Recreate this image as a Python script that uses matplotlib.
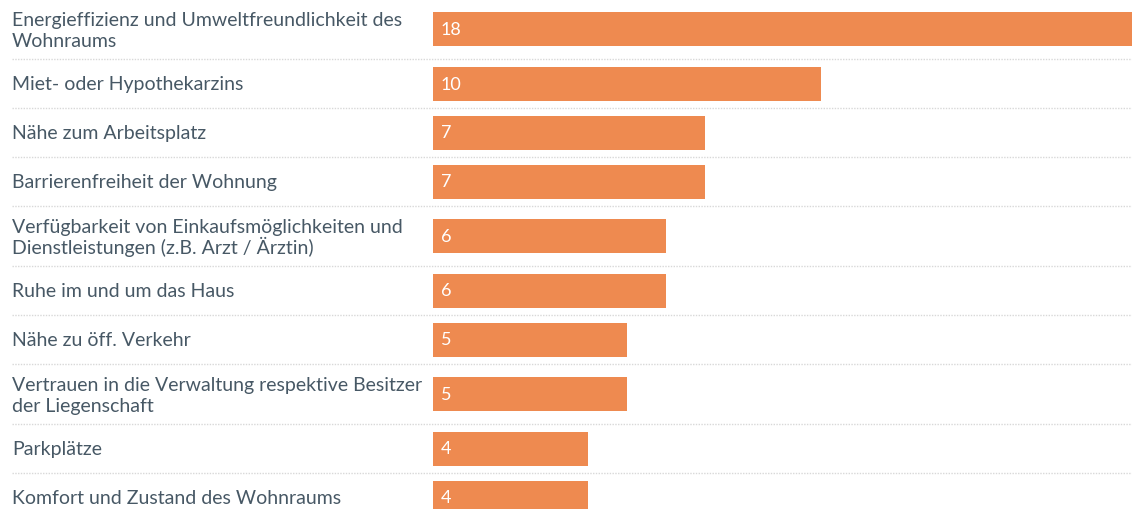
import matplotlib.pyplot as plt
import matplotlib.transforms as mtransforms

# data
labels = [
    "Energieffizienz und Umweltfreundlichkeit des\nWohnraums",
    "Miet- oder Hypothekarzins",
    "Nähe zum Arbeitsplatz",
    "Barrierenfreiheit der Wohnung",
    "Verfügbarkeit von Einkaufsmöglichkeiten und\nDienstleistungen (z.B. Arzt / Ärztin)",
    "Ruhe im und um das Haus",
    "Nähe zu öff. Verkehr",
    "Vertrauen in die Verwaltung respektive Besitzer\nder Liegenschaft",
    "Parkplätze",
    "Komfort und Zustand des Wohnraums",
]
values = [18, 10, 7, 7, 6, 6, 5, 5, 4, 4]

BAR_COLOR = "#EE8A50"
TEXT_COLOR = "#475865"
W, H = 1132, 510
LEFT = 433

plt.rcParams['font.family'] = ['Lato', 'DejaVu Sans']

fig = plt.figure(figsize=(W / 100, H / 100), dpi=100)
ax = fig.add_axes([LEFT / W, 0, 1 - LEFT / W, 1])
ax.set_xlim(0, 18)
ax.set_ylim(H, 0)
ax.axis('off')

# row layout in pixels: two-line labels get taller rows
top = 0
tr = mtransforms.blended_transform_factory(fig.transFigure, ax.transData)
tr_ax = mtransforms.blended_transform_factory(ax.transAxes, ax.transData)
for lab, v in zip(labels, values):
    lines = lab.split("\n")
    h = 60 if len(lines) > 1 else 49
    c = top + h / 2
    ax.barh(c, v, height=34, left=0, color=BAR_COLOR, clip_on=False)
    ax.text(8 / 38.83, c + 5, str(v), color="white", fontsize=13,
            va="baseline", ha="left")
    # fixed baselines so both lines are evenly spaced
    if len(lines) > 1:
        ys = [c - 4, c + 17]
    else:
        ys = [c + 5.5]
    for ln, y in zip(lines, ys):
        ax.text(12 / W, y, ln, transform=tr, color=TEXT_COLOR, fontsize=14,
                va="baseline", ha="left")
    top += h
    if top < H:
        ax.plot([-(LEFT - 12) / (W - LEFT), 1], [top, top], transform=tr_ax,
                color="#d8d8d8", lw=1, ls=(0, (1, 1)), clip_on=False)

fig.savefig("out.png", dpi=100, facecolor="white")
